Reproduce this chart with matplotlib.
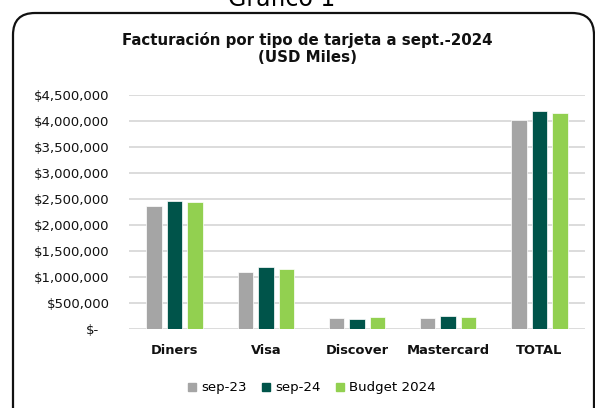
import matplotlib
matplotlib.use("Agg")
import matplotlib.pyplot as plt
import matplotlib.patches as mpatches
import matplotlib.transforms as mtrans
from matplotlib.ticker import FuncFormatter
import numpy as np

categories = ["Diners", "Visa", "Discover", "Mastercard", "TOTAL"]
sep23 = [2371000, 1096000, 217000, 217000, 4019000]
sep24 = [2467000, 1190000, 198000, 256000, 4200000]
budget24 = [2440000, 1150000, 237000, 237000, 4150000]
series_names = ["sep-23", "sep-24", "Budget 2024"]
colors = ["#A5A5A5", "#00544A", "#92D050"]
yticks = [0, 500000, 1000000, 1500000, 2000000, 2500000, 3000000, 3500000, 4000000, 4500000]

W, H = 595, 408
fig = plt.figure(figsize=(W / 100, H / 100), dpi=100)
plt.rcParams['font.family'] = ['DejaVu Sans']

ax = fig.add_axes([129 / W, 1 - 329 / H, (585 - 129) / W, (329 - 95) / H])
x = np.arange(len(categories))
bw = 0.17
off = 0.225
for i, (vals, name, c) in enumerate(zip([sep23, sep24, budget24], series_names, colors)):
    ax.bar(x + (i - 1) * off, vals, width=bw, color=c, label=name,
           edgecolor="white", linewidth=0.5, zorder=3)

ax.set_xlim(-0.5, len(categories) - 0.5)
ax.set_ylim(0, 4500000)
ax.set_yticks(yticks)
ax.yaxis.set_major_formatter(FuncFormatter(lambda v, p: "$-" if v == 0 else "${:,.0f}".format(v)))
ax.grid(axis="y", color="#D9D9D9", linewidth=1.3, zorder=0)
for s in ax.spines.values():
    s.set_visible(False)
ax.tick_params(axis="y", length=0, pad=14, labelsize=9.5, labelcolor="#111111")
ax.tick_params(axis="x", length=0, pad=11)
ax.set_xticks(x)
ax.set_xticklabels(categories, fontsize=9.4, fontweight="bold", color="#111111")

# shift the "$-" label like accounting format
fig.canvas.draw()
lbl0 = ax.get_yticklabels()[0]
lbl0.set_transform(lbl0.get_transform() + mtrans.ScaledTranslation(-10 / 100, 0, fig.dpi_scale_trans))

fig.text(307 / W, 1 - 40 / H, "Facturación por tipo de tarjeta a sept.-2024", ha="center", va="center",
         fontsize=10.8, fontweight="bold", color="#111111")
fig.text(307 / W, 1 - 58 / H, "(USD Miles)", ha="center", va="center",
         fontsize=10.8, fontweight="bold", color="#111111")

fig.text(282 / W, 1 - 6 / H, "Gráfico 1", ha="center", va="baseline", fontsize=17, color="black")

handles = [mpatches.Patch(color=c) for c in colors]
fig.legend(handles, series_names, loc="center", bbox_to_anchor=(312 / W, 1 - 388 / H), ncol=3,
           frameon=False, fontsize=9.6, handlelength=0.6, handleheight=0.6, handletextpad=0.35,
           columnspacing=1.2)

border = mpatches.FancyBboxPatch((13, -30), 581, H - 13 + 30,
                                 boxstyle="round,pad=0,rounding_size=22",
                                 transform=mtrans.IdentityTransform(),
                                 facecolor="none", edgecolor="#111111", linewidth=1.6)
fig.add_artist(border)

fig.savefig("out.png", dpi=100)
